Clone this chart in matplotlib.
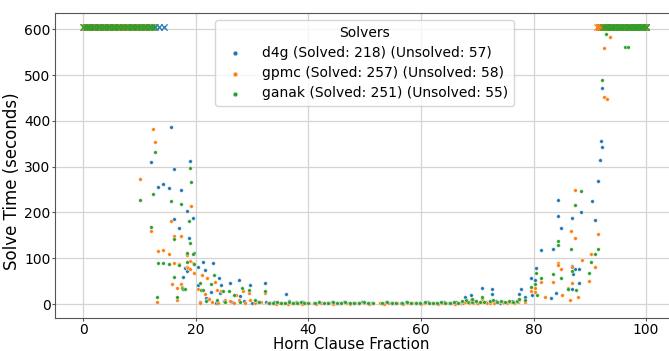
import matplotlib
matplotlib.use("Agg")
import matplotlib.pyplot as plt

# ---------------- data ----------------
solvers = ["d4g", "gpmc", "ganak"]
solved_counts = [218, 257, 251]
unsolved_counts = [57, 58, 55]
timeout_y = 605

d4g_x = [12.1, 13.3, 14.2, 15.2, 15.5, 16.1, 16.1, 17.0, 17.4, 17.7, 18.0, 18.4, 18.4, 18.7, 18.9, 19.4, 19.7,
         20.3, 20.4, 21.2, 21.7, 21.8, 22.6, 23.0, 24.1, 24.2, 24.5, 26.0, 27.6, 27.9, 29.6, 32.2, 36.0,
         20.8, 22.0, 23.5, 25.0, 26.5, 28.5, 30.0, 31.0,
         32.5, 33.2, 33.9, 34.6, 35.3, 36.5, 37.1, 37.8, 38.4, 39.0, 39.7, 41.0, 41.8, 42.5, 43.3, 44.1,
         44.9, 45.5, 46.3, 47.2, 48.0, 48.8, 49.6, 50.5, 51.2, 53.0, 53.8, 54.6, 55.4, 56.5, 57.3, 58.1,
         58.9, 59.6, 60.5, 61.2, 61.9, 62.6, 63.4, 64.1, 64.9, 65.6, 66.3, 67.1, 68.2, 69.5, 70.2, 71.5,
         72.0, 73.3, 74.0, 74.8, 75.5, 76.2, 76.9,
         67.8, 68.9, 70.8, 72.7, 72.6, 77.4, 77.7, 78.4, 79.5, 79.7, 80.3, 80.4, 81.4, 83.1, 83.4, 84.0,
         84.3, 84.4, 84.9, 86.2, 86.8, 86.8, 86.9, 87.0, 87.4, 88.0, 88.1, 88.5, 90.4, 91.0, 91.4,
         91.9, 92.1, 92.2, 92.0]
d4g_y = [310, 256, 263, 253, 387, 295, 186, 167, 249, 60, 79, 204, 73, 144, 312, 187, 111,
         80, 41, 92, 74, 13, 27, 90, 56, 25, 42, 47, 53, 18, 42, 46, 21,
         5, 8, 3, 6, 4, 7, 3, 5,
         4, 3, 5, 2, 3, 6, 2, 4, 3, 5, 2, 3, 4, 2, 3, 5,
         2, 3, 4, 2, 3, 2, 4, 3, 2, 3, 4, 2, 3, 2, 4, 3,
         2, 3, 2, 4, 3, 2, 3, 4, 2, 3, 5, 3, 4, 6, 3, 5,
         4, 6, 3, 5, 4, 6, 5,
         15, 19, 36, 33, 22, 23, 32, 15, 58, 20, 52, 78, 117, 13, 121, 24,
         193, 227, 165, 34, 34, 188, 84, 65, 77, 77, 46, 201, 225, 183, 268,
         314, 343, 472, 357]
d4g_unsolved_x = [0.2, 0.6, 1.0, 1.5, 1.9, 2.4, 2.8, 3.3, 3.7, 4.2, 4.6, 5.1, 5.5, 6.0, 6.4, 6.9, 7.3,
                  7.8, 8.2, 8.7, 9.1, 9.6, 10.0, 10.5, 11.0, 11.6, 12.2, 12.8, 13.4, 14.3,
                  91.6, 92.0, 92.4, 92.8, 93.2, 93.6, 94.0, 94.4, 94.8, 95.2, 95.6, 96.0, 96.4, 96.8,
                  97.2, 97.6, 98.0, 98.4, 98.8, 99.2, 99.6, 100.0, 93.0, 95.0, 97.0, 99.0, 94.2]

gpmc_x = [10.1, 12.1, 12.4, 12.7, 13.1, 13.3, 14.2, 15.2, 15.5, 15.7, 16.1, 16.2, 16.7, 16.7, 17.0, 17.4,
          17.4, 17.6, 18.4, 18.4, 18.6, 18.9, 18.9, 19.2, 19.4, 19.7, 19.7,
          20.4, 21.0, 21.6, 21.9, 22.3, 23.4, 23.8, 24.4, 25.1, 26.1, 27.1, 27.6, 28.3, 29.4, 29.7, 32.2,
          20.8, 22.8, 24.0, 26.8, 28.8, 30.5, 31.5,
          32.8, 33.5, 34.2, 34.9, 35.6, 36.3, 37.0, 37.6, 38.2, 38.9, 39.5, 40.1, 41.3, 42.0, 42.8, 43.6,
          44.4, 45.1, 45.8, 46.6, 47.4, 48.2, 49.0, 49.9, 50.8, 51.5, 52.8, 53.5, 54.2, 55.0, 55.7, 56.8,
          57.6, 58.4, 59.2, 60.0, 60.8, 61.5, 62.3, 63.0, 63.8, 64.5, 65.3, 66.0, 66.8, 67.5, 68.5, 69.2,
          70.0, 71.0, 71.8, 72.3, 73.0, 73.7, 74.5, 75.2, 75.9, 76.6, 77.2,
          67.8, 68.9, 70.8, 72.6, 74.5, 77.4, 78.4, 79.6, 80.3, 80.3, 81.4, 83.4, 84.3, 84.3, 84.9, 86.1,
          86.4, 86.6, 86.8, 86.9, 87.3, 87.3, 87.9, 88.6, 89.8, 90.3, 91.0, 91.4, 82.0, 85.0,
          92.5, 93.0, 92.5, 93.6]
gpmc_y = [272, 160, 383, 354, 5, 115, 119, 109, 181, 44, 148, 89, 35, 8, 88, 148,
          43, 37, 107, 80, 78, 93, 77, 214, 89, 67, 88,
          33, 64, 22, 58, 11, 49, 31, 28, 9, 6, 20, 10, 29, 25, 9, 24,
          2, 4, 3, 2, 3, 2, 4,
          2, 3, 1, 2, 3, 1, 2, 3, 2, 1, 2, 3, 1, 2, 3, 2,
          1, 2, 3, 2, 1, 2, 3, 2, 1, 2, 3, 1, 2, 3, 2, 1,
          2, 3, 2, 1, 2, 3, 2, 1, 2, 3, 2, 1, 2, 3, 2, 3,
          2, 4, 3, 2, 3, 4, 2, 3, 4, 3, 5,
          5, 8, 12, 7, 4, 10, 5, 28, 26, 36, 49, 49, 89, 85, 77, 35,
          10, 160, 82, 46, 250, 144, 16, 96, 51, 109, 80, 153, 15, 20,
          452, 448, 559, 583]
gpmc_unsolved_x = [0.1, 0.5, 0.9, 1.4, 1.8, 2.3, 2.7, 3.2, 3.6, 4.1, 4.5, 5.0, 5.4, 5.9, 6.3, 6.8, 7.2,
                   7.7, 8.1, 8.6, 9.0, 9.5, 9.9, 10.4, 10.8, 11.3, 11.8,
                   91.2, 91.6, 92.0, 92.4, 92.8, 93.2, 93.6, 94.0, 94.4, 94.8, 95.2, 95.6, 96.0, 96.4,
                   96.8, 97.2, 97.6, 98.0, 98.4, 98.8, 99.2, 99.6, 100.0, 93.4, 94.6, 95.8, 97.4, 98.6,
                   99.4, 91.8, 92.6, 96.6]

ganak_x = [10.1, 12.1, 12.4, 12.7, 13.1, 13.3, 14.2, 15.2, 15.5, 16.1, 16.1, 16.7, 17.0, 17.4, 17.6, 17.7,
           18.0, 18.4, 18.5, 18.7, 18.9, 19.0, 19.2, 19.5, 19.7,
           20.7, 20.9, 21.2, 22.7, 23.3, 23.8, 24.8, 25.8, 26.7, 28.2, 29.4, 32.2, 30.5, 31.2, 21.8, 25.2, 27.8,
           33.0, 33.7, 34.4, 35.1, 35.8, 36.6, 37.3, 38.0, 38.6, 39.3, 40.0, 41.1, 41.9, 42.7, 43.5, 44.3,
           45.0, 45.7, 46.5, 47.3, 48.1, 48.9, 49.8, 50.6, 51.4, 53.1, 53.9, 54.8, 55.6, 56.7, 57.5, 58.3,
           59.1, 59.9, 60.7, 61.4, 62.1, 62.9, 63.6, 64.3, 65.1, 65.8, 66.6, 67.3, 68.4, 69.0, 69.8, 70.5,
           71.2, 72.2, 73.5, 74.2, 75.0, 75.7, 76.4, 77.0,
           68.0, 69.0, 70.9, 72.8, 77.5, 78.5, 79.5, 80.3, 80.4, 80.7, 81.4, 83.4, 84.3, 84.4, 84.9, 86.6,
           86.8, 87.4, 88.5, 89.8, 90.3, 91.0, 91.4, 86.2, 87.5, 92.9, 96.2, 96.8, 92.2]
ganak_y = [228, 169, 241, 333, 16, 89, 89, 87, 225, 141, 59, 15, 86, 218, 35, 33,
           33, 111, 92, 181, 297, 133, 266, 109, 87,
           45, 30, 30, 43, 64, 10, 29, 29, 20, 36, 31, 28, 8, 5, 6, 5, 4,
           3, 2, 4, 3, 2, 5, 3, 2, 4, 3, 2, 3, 4, 2, 3, 5,
           3, 2, 4, 3, 2, 3, 4, 2, 3, 2, 4, 3, 2, 3, 4, 2,
           3, 2, 4, 3, 2, 3, 4, 2, 3, 4, 3, 6, 5, 4, 7, 5,
           4, 6, 5, 7, 4, 6, 5, 7,
           10, 12, 15, 8, 12, 8, 37, 43, 67, 20, 58, 66, 128, 137, 58, 121,
           72, 217, 247, 67, 92, 110, 120, 32, 30, 589, 562, 562, 490]
ganak_unsolved_x = [0.0, 0.4, 0.8, 1.2, 1.7, 2.1, 2.6, 3.0, 3.5, 3.9, 4.4, 4.8, 5.3, 5.7, 6.2, 6.6, 7.1,
                    7.5, 8.0, 8.4, 8.9, 9.3, 9.8, 10.2, 10.7, 11.1, 11.6, 12.0, 12.5,
                    92.3, 92.7, 93.1, 93.5, 93.9, 94.3, 94.7, 95.1, 95.5, 95.9, 96.3, 96.7, 97.1, 97.5,
                    97.9, 98.3, 98.7, 99.1, 99.5, 99.9, 93.8, 95.3, 96.9, 98.1, 99.3, 100.0]

series = [(d4g_x, d4g_y, d4g_unsolved_x), (gpmc_x, gpmc_y, gpmc_unsolved_x),
          (ganak_x, ganak_y, ganak_unsolved_x)]
colors = ["#1f77b4", "#ff7f0e", "#2ca02c"]

# ---------------- plot ----------------
plt.rcParams["font.family"] = ["DejaVu Sans"]
fig = plt.figure(figsize=(6.69, 3.51), dpi=100)
ax = fig.add_axes([0.0825, 0.0945, 0.9253, 0.8680])

for name, (sx, sy, ux), c, ns, nu in zip(solvers, series, colors, solved_counts, unsolved_counts):
    ax.scatter(sx, sy, s=7, color=c, edgecolor="white", linewidth=0.3, zorder=3,
               label=f"{name} (Solved: {ns}) (Unsolved: {nu})")
    ax.scatter(ux, [timeout_y] * len(ux), s=20, color=c, marker="x", linewidth=0.9, zorder=3)

ax.set_xlim(-5, 105)
ax.set_ylim(-30, 635)
ax.set_xticks([0, 20, 40, 60, 80, 100])
ax.set_yticks([0, 100, 200, 300, 400, 500, 600])
ax.tick_params(labelsize=10, color="#555555", length=2.2, pad=1.2)
ax.grid(True, color="#d4d4d4", linewidth=0.9)
ax.set_axisbelow(True)
for sp in ax.spines.values():
    sp.set_color("#555555")
ax.set_xlabel("Horn Clause Fraction", fontsize=10.8, labelpad=0)
ax.xaxis.label.set_x(0.478)
ax.set_ylabel("Solve Time (seconds)", fontsize=12, labelpad=2.5)
ax.yaxis.label.set_y(0.447)
leg = ax.legend(title="Solvers", loc="upper center", fontsize=10, title_fontsize=10,
                markerscale=1.3, labelspacing=0.45, handletextpad=1.0, framealpha=0.8)

fig.savefig("out.png", dpi=100)
